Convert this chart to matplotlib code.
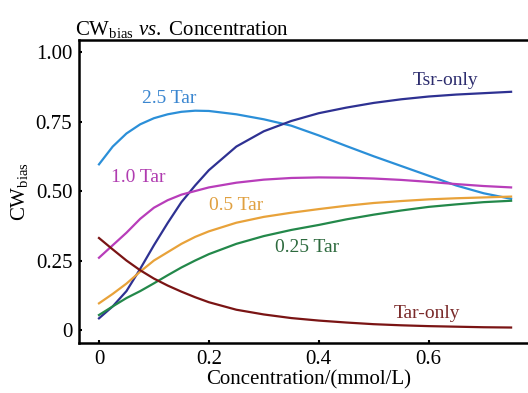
import matplotlib
matplotlib.use('Agg')
import matplotlib.pyplot as plt

plt.rcParams['font.family'] = ['Liberation Serif', 'DejaVu Serif']
plt.rcParams['mathtext.fontset'] = 'custom'
plt.rcParams['mathtext.rm'] = 'Liberation Serif'
plt.rcParams['mathtext.it'] = 'Liberation Serif:italic'

# concentration (mmol/L)
conc = [0, 0.025, 0.05, 0.075, 0.1, 0.125, 0.15, 0.175, 0.2, 0.25,
        0.3, 0.35, 0.4, 0.45, 0.5, 0.55, 0.6, 0.65, 0.7, 0.75]

tar_25 = [0.596, 0.66, 0.707, 0.74, 0.762, 0.776, 0.785, 0.789, 0.788, 0.776,
          0.758, 0.735, 0.70, 0.662, 0.625, 0.59, 0.555, 0.52, 0.492, 0.472]
tsr_only = [0.042, 0.085, 0.14, 0.22, 0.305, 0.385, 0.46, 0.52, 0.575, 0.66,
            0.715, 0.752, 0.78, 0.80, 0.817, 0.83, 0.84, 0.847, 0.852, 0.857]
tar_10 = [0.26, 0.305, 0.35, 0.40, 0.44, 0.467, 0.487, 0.50, 0.513, 0.53,
          0.541, 0.547, 0.549, 0.548, 0.545, 0.54, 0.533, 0.525, 0.518, 0.513]
tar_05 = [0.096, 0.13, 0.167, 0.21, 0.25, 0.28, 0.31, 0.335, 0.355, 0.386,
          0.407, 0.422, 0.435, 0.447, 0.457, 0.464, 0.47, 0.474, 0.477, 0.48]
tar_025 = [0.054, 0.085, 0.115, 0.14, 0.168, 0.197, 0.225, 0.25, 0.273, 0.31,
           0.338, 0.36, 0.378, 0.398, 0.415, 0.43, 0.443, 0.452, 0.46, 0.465]
tar_only = [0.331, 0.29, 0.25, 0.215, 0.185, 0.16, 0.138, 0.118, 0.10, 0.073,
            0.056, 0.043, 0.034, 0.027, 0.021, 0.017, 0.014, 0.012, 0.01, 0.009]

series = [
    ('2.5 Tar', tar_25, '#2b8fd8', '#3a86d0', 0.127, 0.834),
    ('Tsr-only', tsr_only, '#2e3192', '#2d2d6e', 0.631, 0.899),
    ('1.0 Tar', tar_10, '#b83dba', '#b03cb0', 0.071, 0.549),
    ('0.5 Tar', tar_05, '#e8a23a', '#e0a040', 0.249, 0.448),
    ('0.25 Tar', tar_025, '#23884a', '#2d6a3e', 0.378, 0.296),
    ('Tar-only', tar_only, '#7a1414', '#7a2a2a', 0.596, 0.061),
]

fig = plt.figure(figsize=(5.28, 3.93), dpi=100)
ax = fig.add_axes([0.15, 0.127, 0.87, 0.771])

for name, vals, lc, tc, lx, ly in series:
    ax.plot(conc, vals, color=lc, linewidth=1.6)
    ax.text(lx, ly, name, color=tc, fontsize=14, ha='center', va='center')

ax.set_xlim(-0.036, 0.80)
ax.set_ylim(-0.047, 1.043)
ax.set_xticks([0, 0.2, 0.4, 0.6])
ax.set_xticklabels(['0', '0.2', '0.4', '0.6'])
ax.set_yticks([0, 0.25, 0.5, 0.75, 1.0])
ax.set_yticklabels(['0', '0.25', '0.50', '0.75', '1.00'])
ax.tick_params(direction='in', length=2.5, width=1.5, labelsize=15, pad=5)

for side in ['left', 'top', 'bottom']:
    ax.spines[side].set_linewidth(1.8)
ax.spines['right'].set_visible(False)

ax.set_xlabel('Concentration/(mmol/L)', fontsize=15, labelpad=1)
ax.set_ylabel(r'CW$_{\mathrm{bias}}$', fontsize=15, labelpad=4)
ax.set_title(r'CW$_{\mathrm{bias}}$ $\mathit{vs.}$ Concentration', fontsize=15, loc='left', x=-0.01, pad=3)

fig.savefig('out.png', dpi=100)
